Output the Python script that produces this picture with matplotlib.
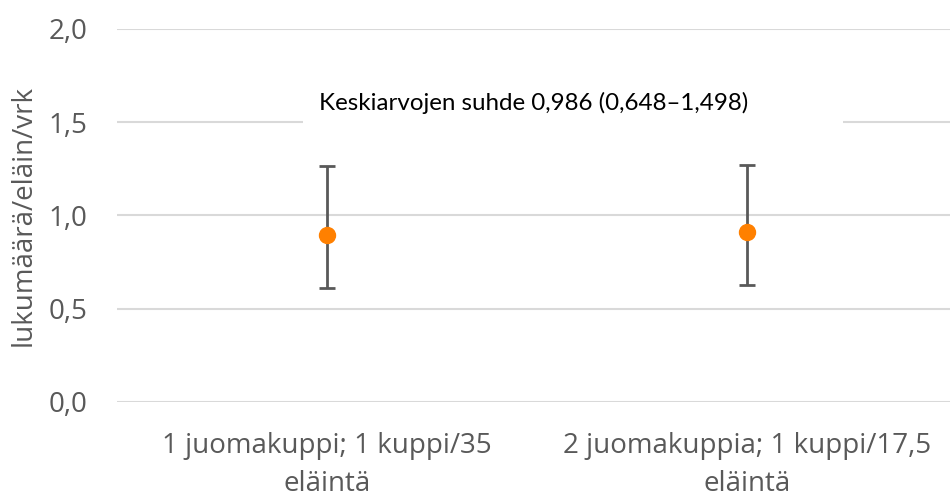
import matplotlib.pyplot as plt
from matplotlib.patches import Rectangle
from matplotlib.transforms import blended_transform_factory

categories = ["1 juomakuppi; 1 kuppi/35\neläintä",
              "2 juomakuppia; 1 kuppi/17,5\neläintä"]
means = [0.895, 0.910]
lower = [0.611, 0.627]   # lower CI limit
upper = [1.265, 1.270]   # upper CI limit
note = "Keskiarvojen suhde 0,986 (0,648\u20131,498)"
yticks = [0.0, 0.5, 1.0, 1.5, 2.0]

grey = "#595959"
fig = plt.figure(figsize=(9.5, 4.96), dpi=100)
ax = fig.add_axes([0.123, 0.19, 0.877, 0.752])

x = list(range(len(categories)))
yerr = [[m - lo for m, lo in zip(means, lower)],
        [hi - m for m, hi in zip(means, upper)]]
ax.errorbar(x, means, yerr=yerr, fmt="o", color="#FF8000", ecolor=grey,
            elinewidth=2, capsize=6, capthick=2, markersize=11.5,
            markeredgecolor="#FF8000", zorder=3)

ax.set_xlim(-0.5, 1.483)
ax.set_ylim(0, 2.0)
ax.set_yticks(yticks)
ax.set_yticklabels([f"{v:.1f}".replace(".", ",") for v in yticks])
ax.set_xticks(x)
ax.set_xticklabels(categories, fontsize=20, color=grey,
                   family="Open Sans", linespacing=1.45)
ax.tick_params(axis="y", labelsize=20, labelcolor=grey, length=0, pad=21)
ax.tick_params(axis="x", length=0, pad=22)
for lbl in ax.get_yticklabels():
    lbl.set_family("Open Sans")
ax.set_ylabel("lukumäärä/eläin/vrk", fontsize=20, color=grey,
              family="Open Sans", labelpad=8)
ax.yaxis.grid(True, color="#D9D9D9", linewidth=1.5, zorder=0)
ax.set_axisbelow(True)
for s in ax.spines.values():
    s.set_visible(False)

# white label box that hides the gridline behind the note
tr = blended_transform_factory(ax.transAxes, ax.transData)
ax.add_patch(Rectangle((0.224, 1.45), 0.648, 0.4, transform=tr,
                       facecolor="white", edgecolor="none", zorder=2))
ax.text(0.5, 1.6, note, transform=tr, ha="center", va="center",
        fontsize=17.4, family="Lato", color="black", zorder=4)

fig.savefig("out.png", dpi=100)
